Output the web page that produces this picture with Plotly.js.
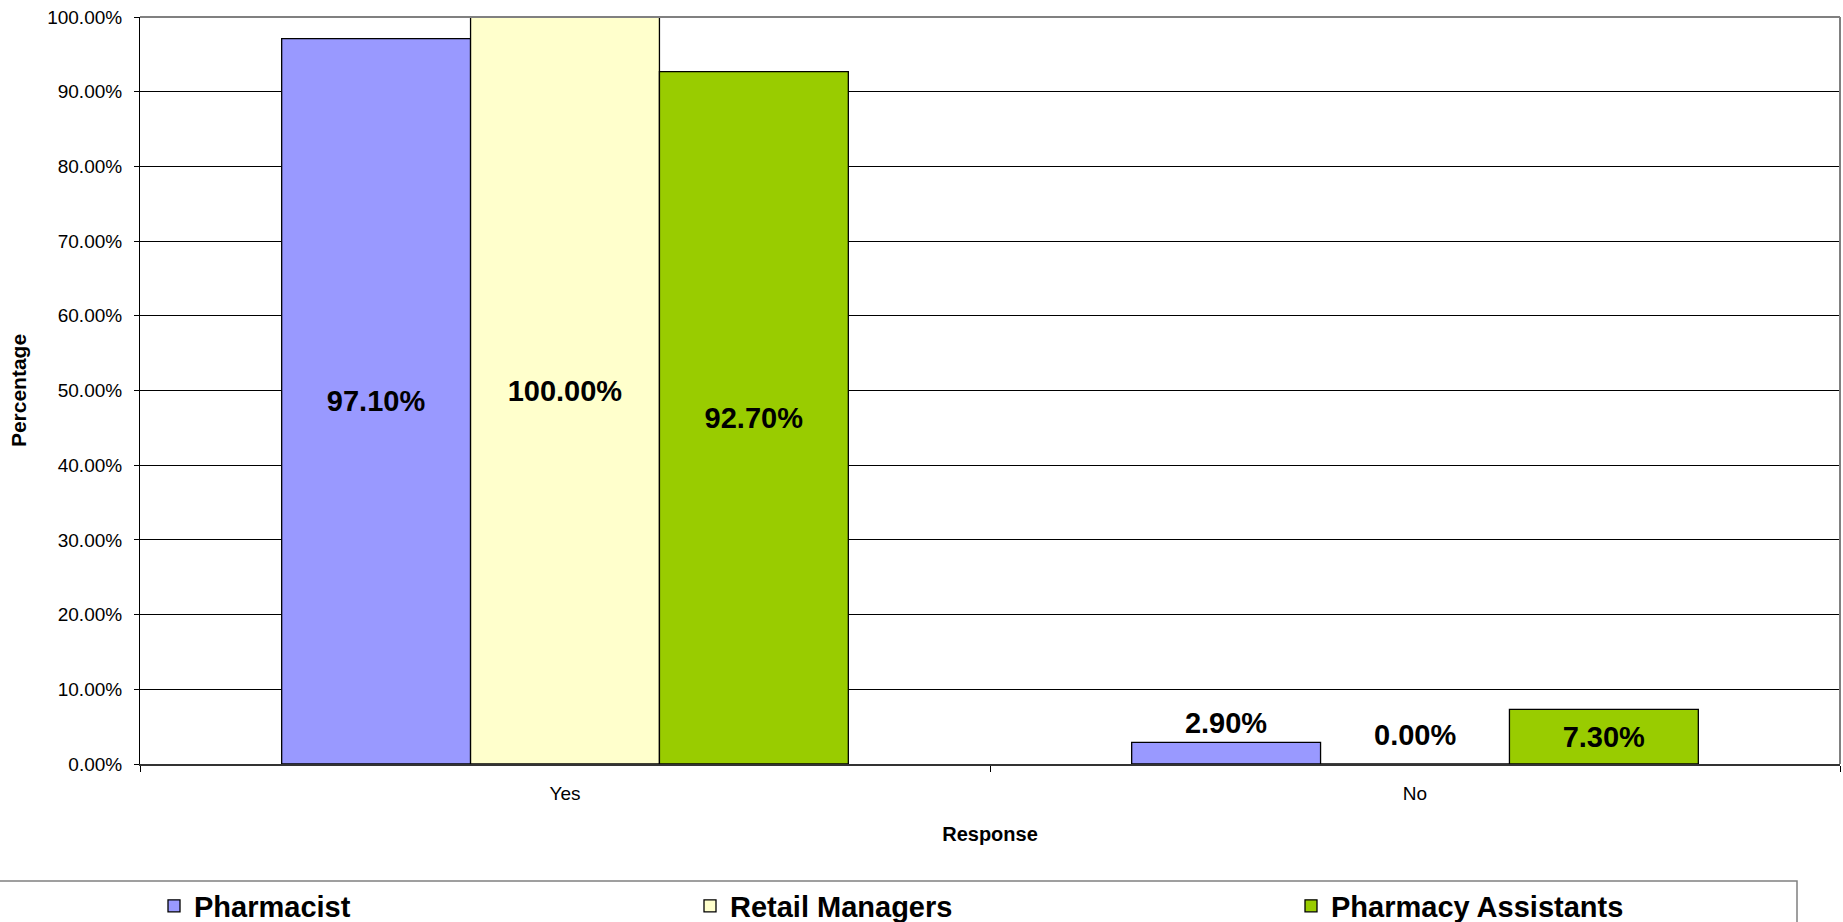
<!DOCTYPE html>
<html>
<head>
<meta charset="utf-8">
<script src="https://cdn.plot.ly/plotly-3.0.1.min.js"></script>
<style>
  html, body { margin: 0; padding: 0; background: #fff; }
  #chart { width: 1843px; height: 922px; }
</style>
</head>
<body>
<div id="chart"></div>
<script>
// ---- data ----
const categories = ["Yes", "No"];
const seriesNames = ["Pharmacist", "Retail Managers", "Pharmacy Assistants"];
const pharmacist = [97.1, 2.9];
const retailManagers = [100.0, 0.0];
const pharmacyAssistants = [92.7, 7.3];
const yTickValues = [0, 10, 20, 30, 40, 50, 60, 70, 80, 90, 100];
const xAxisTitle = "Response";
const yAxisTitle = "Percentage";

// ---- styles ----
const FONT = "'Liberation Sans', Arial, Helvetica, sans-serif";
const colors = ["#9999FF", "#FFFFCC", "#99CC00"];
const seriesValues = [pharmacist, retailManagers, pharmacyAssistants];
const legendIds = ["legend", "legend2", "legend3"];
const LABEL_SIZE = 29;
const fmt = v => v.toFixed(2) + "%";

const labelFont = { family: FONT, size: LABEL_SIZE, weight: "bold", color: "#000000" };

const traces = seriesValues.map((vals, i) => ({
  type: "bar",
  name: seriesNames[i],
  x: categories,
  y: vals,
  legend: legendIds[i],
  marker: { color: colors[i], line: { color: "#000000", width: 1.3 } },
  texttemplate: "%{y:.2f}%",
  textposition: "auto",
  insidetextanchor: "middle",
  constraintext: "none",
  cliponaxis: false,
  textfont: labelFont,
  insidetextfont: labelFont,
  outsidetextfont: labelFont,
  hoverinfo: "x+y+name"
}));

// plot area: x 140..1840, y 17..764
const PL = 140, PR = 1840, PT = 17, PB = 764;
const pw = PR - PL, ph = PB - PT;
const px2paper = p => (p - PL) / pw;
const py2paper = p => (PB - p) / ph;
const BAR_PX = pw / categories.length / 4.5; // bar width in px (gap = 1.5 bar widths)

// labels for zero-height bars (Plotly draws no text for them)
const zeroLabels = [];
seriesValues.forEach((vals, i) => {
  vals.forEach((v, j) => {
    if (v === 0) {
      zeroLabels.push({
        x: categories[j], y: v, xref: "x", yref: "y",
        text: fmt(v), showarrow: false,
        xanchor: "center", yanchor: "bottom",
        xshift: (i - (seriesValues.length - 1) / 2) * BAR_PX,
        yshift: 11,
        font: labelFont
      });
    }
  });
});

function legendAt(px) {
  return {
    orientation: "h",
    x: px2paper(px), xanchor: "left",
    y: py2paper(906), yanchor: "middle",
    bgcolor: "rgba(0,0,0,0)",
    borderwidth: 0,
    font: { family: FONT, size: 29, weight: "bold", color: "#000000" }
  };
}

const layout = {
  width: 1843,
  height: 922,
  paper_bgcolor: "#ffffff",
  plot_bgcolor: "#ffffff",
  margin: { l: PL, r: 1843 - PR, t: PT, b: 922 - PB, pad: 0, autoexpand: false },
  barmode: "group",
  bargap: 1 / 3,
  bargroupgap: 0,
  showlegend: true,
  font: { family: FONT, color: "#000000" },
  xaxis: {
    type: "category",
    showgrid: false,
    zeroline: false,
    showline: true,
    linecolor: "#333333",
    linewidth: 2,
    ticks: "outside",
    tickson: "boundaries",
    ticklen: 6,
    tickcolor: "#000000",
    ticklabelstandoff: 11,
    tickfont: { family: FONT, size: 19, color: "#000000" },
    title: { text: xAxisTitle, standoff: 24, font: { family: FONT, size: 20, weight: "bold", color: "#000000" } },
    automargin: false,
    fixedrange: true
  },
  yaxis: {
    range: [0, 100],
    tickmode: "array",
    tickvals: yTickValues,
    ticktext: yTickValues.map(fmt),
    showgrid: true,
    gridcolor: "#000000",
    gridwidth: 1,
    zeroline: false,
    showline: true,
    linecolor: "#000000",
    linewidth: 1,
    ticks: "outside",
    ticklen: 5,
    tickcolor: "#000000",
    ticklabelstandoff: 8,
    tickfont: { family: FONT, size: 19, color: "#000000" },
    title: { text: yAxisTitle, standoff: 14, font: { family: FONT, size: 21, weight: "bold", color: "#000000" } },
    automargin: false,
    fixedrange: true
  },
  legend: legendAt(154),
  legend2: legendAt(690),
  legend3: legendAt(1291),
  annotations: zeroLabels,
  shapes: [
    // plot area border (top and right, grey)
    { type: "line", xref: "paper", yref: "paper", x0: 0, x1: 1, y0: 1, y1: 1,
      line: { color: "#808080", width: 2 }, layer: "above" },
    { type: "line", xref: "paper", yref: "paper", x0: 1, x1: 1, y0: 0, y1: 1,
      line: { color: "#808080", width: 2 }, layer: "above" },
    // legend frame
    { type: "rect", xref: "paper", yref: "paper",
      x0: px2paper(-3), x1: px2paper(1797), y0: py2paper(935), y1: py2paper(881),
      line: { color: "#808080", width: 1.5 }, fillcolor: "rgba(0,0,0,0)", layer: "above" }
  ]
};

Plotly.newPlot("chart", traces, layout, { displayModeBar: false, staticPlot: true });
</script>
</body>
</html>
